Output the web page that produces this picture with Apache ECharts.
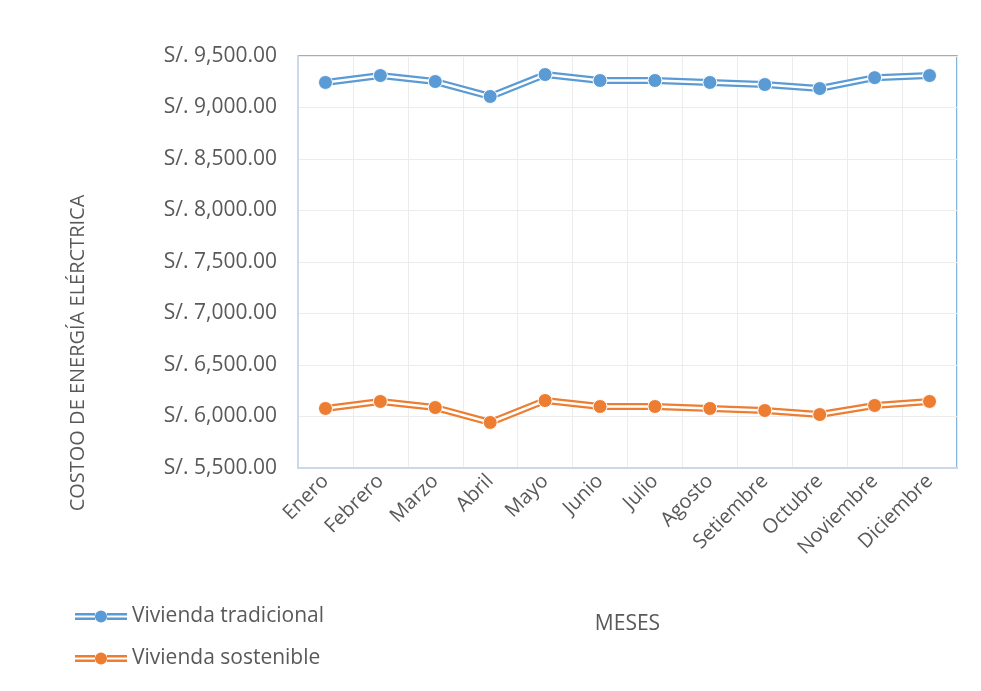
<!DOCTYPE html>
<html>
<head>
<meta charset="utf-8">
<script src="https://cdn.jsdelivr.net/npm/echarts@6/dist/echarts.min.js"></script>
<style>html,body{margin:0;padding:0;background:#fff;}#c{width:981px;height:691px;}</style>
</head>
<body>
<div id="c"></div>
<script>
const months = ['Enero','Febrero','Marzo','Abril','Mayo','Junio','Julio','Agosto','Setiembre','Octubre','Noviembre','Diciembre'];
const tradicional = [9243, 9310, 9252, 9107, 9320, 9262, 9262, 9243, 9223, 9184, 9290, 9310];
const sostenible = [6078, 6146, 6087, 5942, 6155, 6097, 6097, 6078, 6058, 6019, 6107, 6146];
const seriesNames = ['Vivienda tradicional', 'Vivienda sostenible'];
const yTicks = {min: 5500, max: 9500, step: 500};

const blue = '#5b9bd5', orange = '#ed7d31';
const font = 'Open Sans';
const icon = 'path://M0,3.5h20v2.6h-20zM0,8h20v2.6h-20zM32,3.5h20v2.6h-20zM32,8h20v2.6h-20zM20,7a6,6 0 1,0 12,0a6,6 0 1,0 -12,0z';

function fmt(v){
  return 'S/. ' + v.toLocaleString('en-US',{minimumFractionDigits:2, maximumFractionDigits:2});
}
function pair(name, data, color){
  return [
    {name: name, type:'line', data: data, symbol:'none', z:2,
     lineStyle:{color: color, width: 7}, itemStyle:{color: color}},
    {name: name + '_inner', type:'line', data: data, symbol:'circle', symbolSize: 14, z:3,
     lineStyle:{color:'#ffffff', width: 2.5},
     itemStyle:{color: color, borderColor:'#ffffff', borderWidth:1}}
  ];
}

const chart = echarts.init(document.getElementById('c'), null, {renderer:'canvas'});
chart.setOption({
  animation:false,
  backgroundColor:'#ffffff',
  grid:{left:298, right:24, top:56, bottom:223, show:true, borderColor: blue, borderWidth:1.5, backgroundColor:'transparent'},
  legend:{
    data: seriesNames.map(n => ({name:n, icon: icon})),
    orient:'vertical', left:75, top:606, padding:0, itemWidth:52, itemHeight:12, itemGap:21,
    textStyle:{fontFamily:font, fontSize:21, lineHeight:21, color:'#595959'}
  },
  xAxis:{
    type:'category', data: months, boundaryGap:true,
    name:'MESES', nameLocation:'middle', nameGap:146,
    nameTextStyle:{fontFamily:font, fontSize:21, color:'#595959'},
    axisLine:{show:true, lineStyle:{color:'#ccd8e6', width:2}},
    axisTick:{show:false},
    splitLine:{show:true, lineStyle:{color:'#ececec', width:1}},
    axisLabel:{rotate:45, margin:10, fontFamily:font, fontSize:20, color:'#595959', interval:0}
  },
  yAxis:{
    type:'value', min: yTicks.min, max: yTicks.max, interval: yTicks.step,
    name:'COSTOO DE ENERGÍA ELÉRCTRICA', nameLocation:'middle', nameGap:210,
    nameTextStyle:{fontFamily:font, fontSize:20, color:'#595959', padding:[0,182,0,0]},
    axisLine:{show:true, lineStyle:{color:'#ccd8e6', width:2}},
    axisTick:{show:false},
    splitLine:{show:true, lineStyle:{color:'#ececec', width:1}},
    axisLabel:{margin:21, fontFamily:font, fontSize:21, color:'#595959', formatter: fmt}
  },
  series: [].concat(pair(seriesNames[0], tradicional, blue), pair(seriesNames[1], sostenible, orange))
});
</script>
</body>
</html>
